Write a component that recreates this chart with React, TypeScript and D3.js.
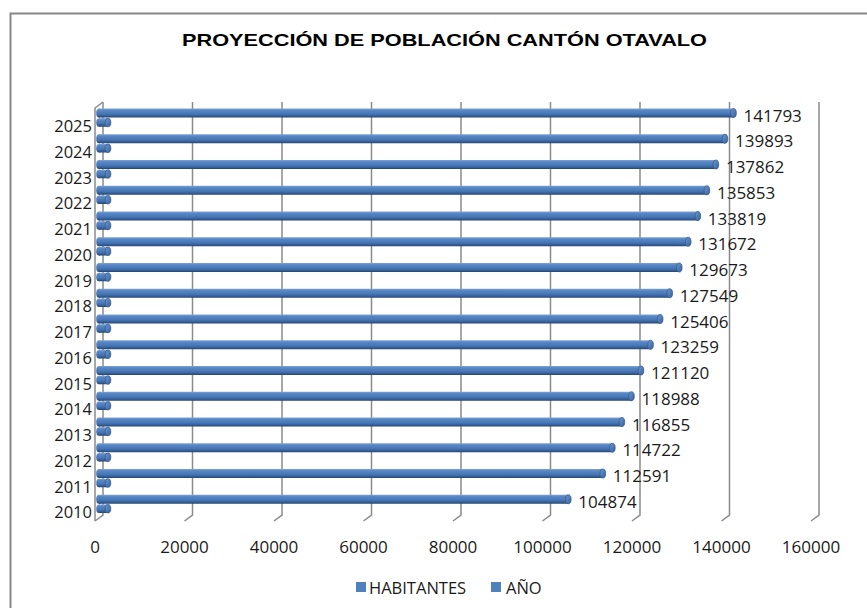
import React from "react";
import * as d3 from "d3";

const years = ["2010","2011","2012","2013","2014","2015","2016","2017","2018","2019","2020","2021","2022","2023","2024","2025"];
const habitantes = [104874,112591,114722,116855,118988,121120,123259,125406,127549,129673,131672,133819,135853,137862,139893,141793];
const anio = [2010,2011,2012,2013,2014,2015,2016,2017,2018,2019,2020,2021,2022,2023,2024,2025];
const xTicks = [0,20000,40000,60000,80000,100000,120000,140000,160000];
const seriesNames = ["HABITANTES", "AÑO"];
const title = "PROYECCIÓN DE POBLACIÓN CANTÓN OTAVALO";

const W = 867, H = 608;
const DX = 8, DY = 6; // depth offset

export default function App() {
  const xBack = d3.scaleLinear().domain([0, 160000]).range([103, 819]);
  const xMid = (v: number) => xBack(v) - DX / 2;
  const xFront = (v: number) => xBack(v) - DX;
  const yBand = d3.scaleBand<string>().domain([...years].reverse()).range([106, 518]).paddingInner(0).paddingOuter(0);
  const backTop = 102, backBottom = 515;
  const font = "'Open Sans', sans-serif";
  const textColor = "#1a1a1a";
  const grid = "#8a8a8a";

  const bar = (key: string, x0: number, x1: number, cy: number, h: number) => {
    const r = 2.8;
    return (
      <g key={key}>
        <rect x={x0} y={cy - h / 2} width={Math.max(0, x1 - x0)} height={h} fill="url(#barGrad)" />
        <ellipse cx={x0} cy={cy} rx={r} ry={h / 2} fill="url(#barGrad)" />
        <ellipse cx={x1} cy={cy} rx={r} ry={h / 2} fill="url(#capGrad)" stroke="#2f5687" strokeWidth={0.7} />
      </g>
    );
  };

  return (
    <svg width={W} height={H} style={{ position: "absolute", left: 0, top: 0, background: "#fff" }}>
      <defs>
        <linearGradient id="barGrad" x1="0" y1="0" x2="0" y2="1">
          <stop offset="0%" stopColor="#7ea3d6" />
          <stop offset="20%" stopColor="#5887c6" />
          <stop offset="60%" stopColor="#4676b5" />
          <stop offset="85%" stopColor="#335c92" />
          <stop offset="100%" stopColor="#24426c" />
        </linearGradient>
        <linearGradient id="capGrad" x1="0" y1="0" x2="1" y2="1">
          <stop offset="0%" stopColor="#6f98cf" />
          <stop offset="100%" stopColor="#34609a" />
        </linearGradient>
      </defs>
      {/* frame */}
      <path d={`M10.5,${H + 10} V13.5 H${W + 10}`} fill="none" stroke="#878787" strokeWidth={2} />
      {/* title */}
      <text x={444.5} y={45.5} textAnchor="middle" fontFamily="'Liberation Sans', Arial, sans-serif" fontWeight="bold" fontSize={16.5} textLength={525} lengthAdjust="spacingAndGlyphs" fill="#000">{title}</text>

      {/* left wall */}
      <path d={`M${xFront(0)},${backBottom + DY} V${backTop + DY} L${xBack(0)},${backTop}`} fill="none" stroke={grid} strokeWidth={1.5} />
      {/* gridlines */}
      {xTicks.map((t) => (
        <path key={t} d={`M${xBack(t)},${backTop} V${backBottom} L${xFront(t)},${backBottom + DY}`} fill="none" stroke={grid} strokeWidth={1.5} />
      ))}

      {/* bars */}
      {years.map((yr, i) => {
        const top = yBand(yr)!;
        const cyBig = top + 7;
        const cySmall = top + 16.5;
        return (
          <g key={yr}>
            {bar("h" + yr, xMid(0), xMid(habitantes[i]), cyBig, 9)}
            {bar("a" + yr, xMid(0), xMid(anio[i]), cySmall, 8.5)}
            <text x={xMid(habitantes[i]) + 10} y={cyBig + 2} dominantBaseline="central" fontFamily={font} fontSize={17} fill={textColor}>{habitantes[i]}</text>
            <text x={92} y={cyBig + 12.5} dominantBaseline="central" textAnchor="end" fontFamily={font} fontSize={16.5} fill={textColor}>{yr}</text>
          </g>
        );
      })}

      {/* x tick labels */}
      {xTicks.map((t) => (
        <text key={"l" + t} x={xFront(t)} y={546} textAnchor="middle" dominantBaseline="central" fontFamily={font} fontSize={17} fill={textColor}>{t}</text>
      ))}

      {/* legend */}
      <rect x={356} y={582} width={10} height={10} fill="#4f81bd" />
      <text x={369} y={587} dominantBaseline="central" fontFamily={font} fontSize={16.5} fill={textColor}>{seriesNames[0]}</text>
      <rect x={491} y={582} width={10} height={10} fill="#4f81bd" />
      <text x={506} y={587} dominantBaseline="central" fontFamily={font} fontSize={16.5} fill={textColor}>{seriesNames[1]}</text>
    </svg>
  );
}
